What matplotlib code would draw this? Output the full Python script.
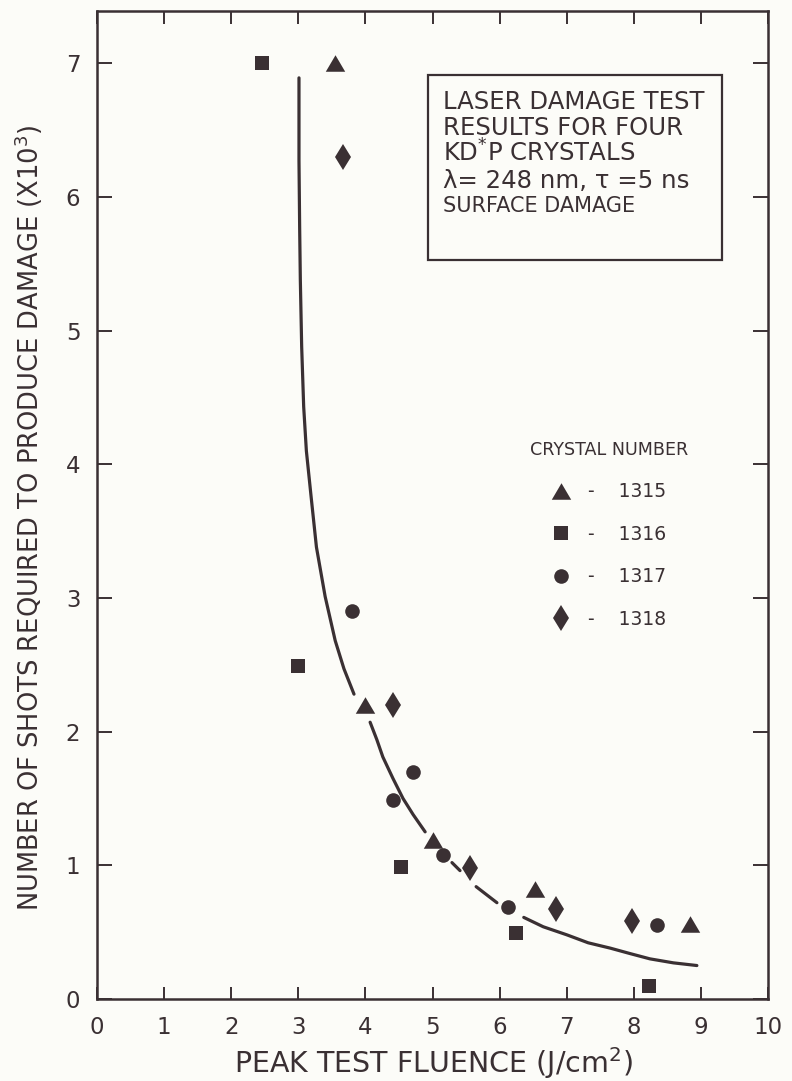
import numpy as np
import matplotlib
matplotlib.use("Agg")
import matplotlib.pyplot as plt
from matplotlib.patches import Rectangle

# crystal data, x = peak test fluence (J/cm^2), y = shots to damage (x10^3)
x_1315 = [3.55, 3.99, 5.01, 6.53, 8.84]
y_1315 = [7.0, 2.2, 1.19, 0.82, 0.56]
x_1316 = [2.46, 3.0, 4.53, 6.24, 8.22]
y_1316 = [7.0, 2.49, 0.99, 0.49, 0.10]
x_1317 = [3.8, 4.41, 4.71, 5.16, 6.13, 8.35]
y_1317 = [2.9, 1.49, 1.70, 1.08, 0.69, 0.55]
x_1318 = [3.67, 4.41, 5.56, 6.84, 7.97]
y_1318 = [6.3, 2.2, 0.98, 0.67, 0.58]

# hand drawn trend curve, broken where it passes the markers
nan = np.nan
curve_x = [3.01, 3.01, 3.02, 3.03, 3.05, 3.08, 3.12, 3.19, 3.27, 3.40, 3.55, 3.68, 3.83, nan,
           4.07, 4.17, 4.26, 4.41, 4.56, 4.71, 4.89, nan,
           5.29, 5.41, nan,
           5.65, 5.96, nan,
           6.36, 6.65, 7.0, 7.32, 7.65, 7.94, 8.24, 8.59, 8.94]
curve_y = [6.89, 6.27, 5.77, 5.38, 4.88, 4.43, 4.10, 3.76, 3.38, 3.01, 2.68, 2.47, 2.28, nan,
           2.07, 1.94, 1.81, 1.65, 1.50, 1.38, 1.25, nan,
           1.02, 0.96, nan,
           0.84, 0.72, nan,
           0.61, 0.54, 0.48, 0.42, 0.38, 0.34, 0.30, 0.27, 0.25]

crystals = ["1315", "1316", "1317", "1318"]

ink = "#3a3033"
bg = "#fcfcf8"
plt.rcParams["font.family"] = ["DejaVu Sans"]

fig = plt.figure(figsize=(7.92, 10.81), dpi=100, facecolor=bg)
ax = fig.add_axes([0.1225, 0.0759, 0.8472, 0.9139], facecolor=bg)

ax.plot(curve_x, curve_y, color=ink, linewidth=2.3, solid_capstyle="round")

tri = [(-1, -0.85), (1, -0.85), (0, 0.85)]
h1, = ax.plot(x_1315, y_1315, linestyle="none", marker=tri, markersize=14,
              color=ink, markeredgewidth=0)
h2, = ax.plot(x_1316, y_1316, linestyle="none", marker="s", markersize=10.5,
              color=ink, markeredgewidth=0)
h3, = ax.plot(x_1317, y_1317, linestyle="none", marker="o", markersize=10.5,
              color=ink, markeredgewidth=0)
h4, = ax.plot(x_1318, y_1318, linestyle="none", marker="d", markersize=13.5,
              color=ink, markeredgewidth=0)

ax.set_xlim(0, 10)
ax.set_ylim(0, 7.39)
ax.set_xticks(range(0, 11))
ax.set_yticks(range(0, 8))
ax.tick_params(direction="in", top=True, right=True, width=1.4,
               color=ink, labelcolor=ink, labelsize=16.5, pad=12)
ax.tick_params(axis="x", length=9)
ax.tick_params(axis="y", length=11)
for s in ax.spines.values():
    s.set_linewidth(1.8)
    s.set_color(ink)

ax.set_xlabel("PEAK TEST FLUENCE (J/cm$^2$)", fontsize=20.5, color=ink)
ax.xaxis.set_label_coords(0.502, -0.047)
ax.set_ylabel("NUMBER OF SHOTS REQUIRED TO PRODUCE DAMAGE (X10$^3$)",
              fontsize=18.5, color=ink)
ax.yaxis.set_label_coords(-0.077, 0.487)

# title box
ax.add_patch(Rectangle((0.493, 0.748), 0.438, 0.187, transform=ax.transAxes,
                       fill=False, edgecolor=ink, linewidth=1.6))
box_lines = [("LASER DAMAGE TEST", 0.908, 17.6),
             ("RESULTS FOR FOUR", 0.882, 17.6),
             ("KD$^{*}$P CRYSTALS", 0.856, 17.6),
             ("λ= 248 nm, τ =5 ns", 0.828, 17.6),
             ("SURFACE DAMAGE", 0.803, 15)]
for txt, yy, fs in box_lines:
    ax.text(0.516, yy, txt, transform=ax.transAxes, fontsize=fs, color=ink,
            va="center", ha="left")

leg = ax.legend([h1, h2, h3, h4], ["-    " + c for c in crystals],
                title="CRYSTAL NUMBER", loc="upper center",
                bbox_to_anchor=(0.763, 0.565), frameon=False, fontsize=13.5,
                title_fontsize=12.6, numpoints=1, handlelength=1.0,
                handletextpad=0.9, labelspacing=1.25, borderpad=0,
                borderaxespad=0)
for t in leg.get_texts():
    t.set_color(ink)
leg.get_title().set_color(ink)

fig.savefig("out.png", dpi=100, facecolor=bg)
